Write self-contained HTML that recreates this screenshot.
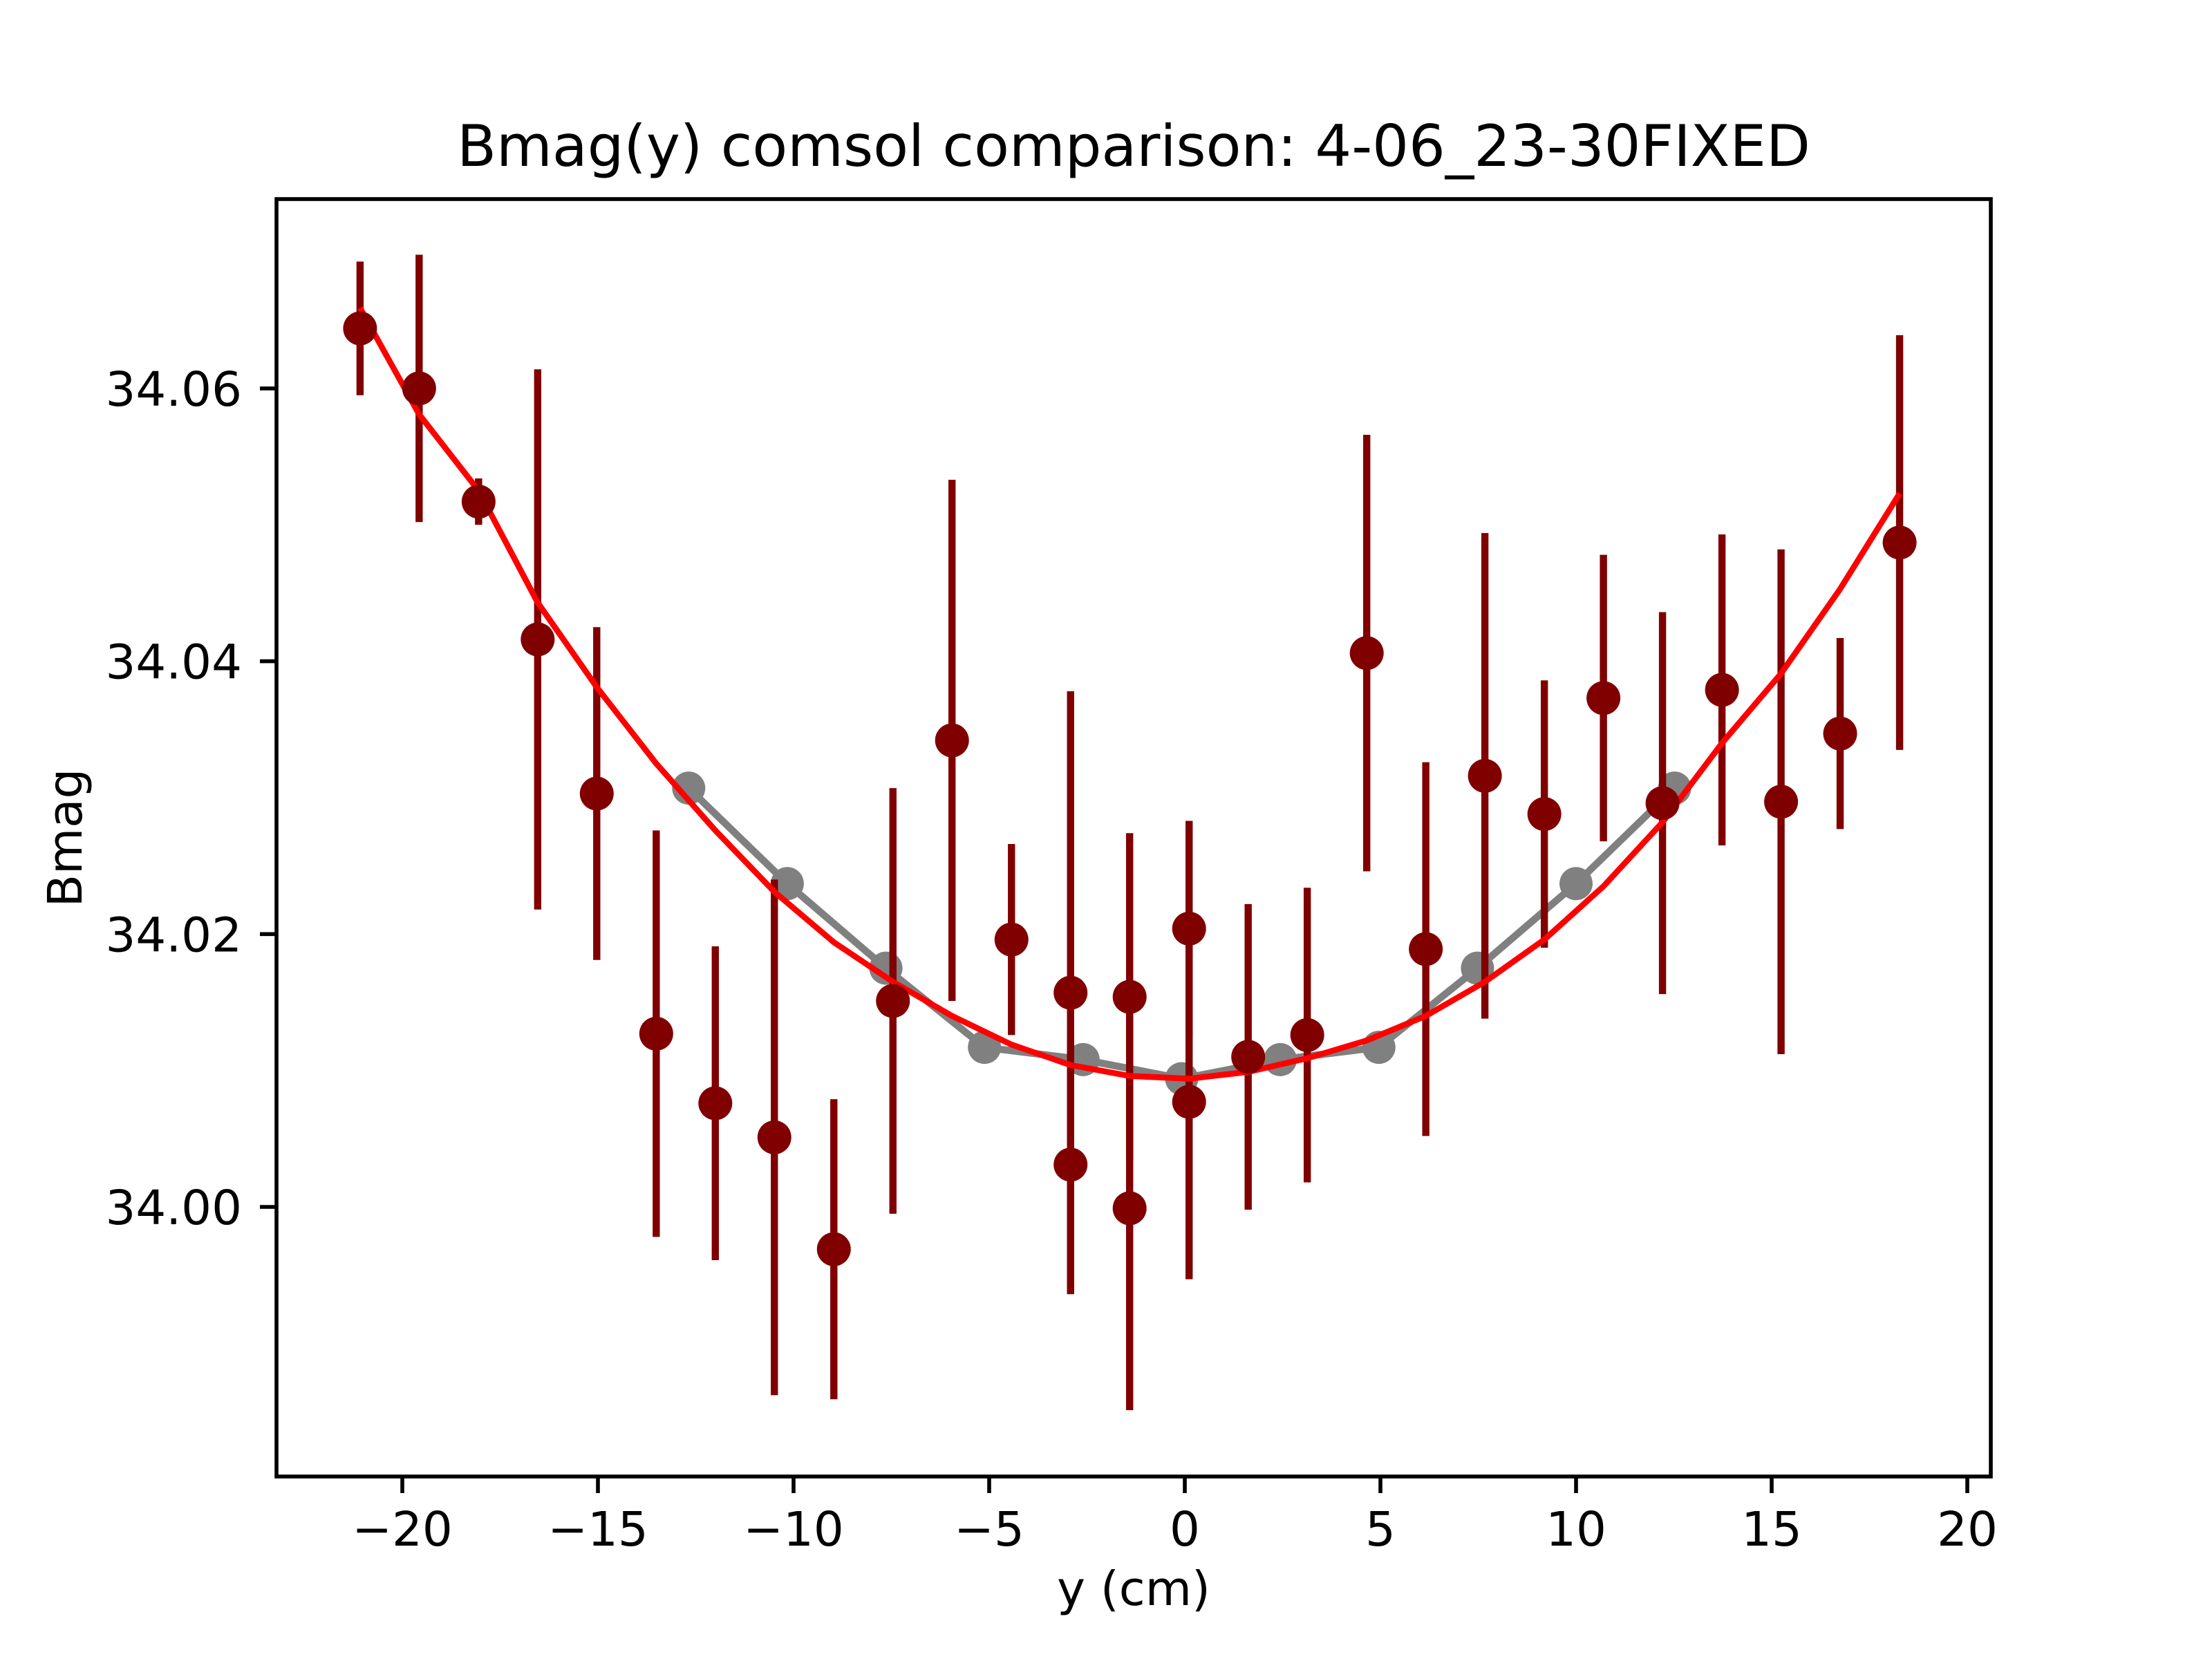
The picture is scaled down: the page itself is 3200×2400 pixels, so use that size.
<!DOCTYPE html>
<html><head><meta charset="utf-8"><style>
html,body{margin:0;padding:0;background:#fff}
svg{display:block}
text{font-family:"DejaVu Sans","Liberation Sans",sans-serif;fill:#000}
</style></head><body>
<svg id="chart" width="3200" height="2400" viewBox="0 0 3200 2400" xmlns="http://www.w3.org/2000/svg">
<rect x="0" y="0" width="3200" height="2400" fill="#fff"/>
<text x="1640" y="240" font-size="83" text-anchor="middle">Bmag(y) comsol comparison: 4-06_23-30FIXED</text>
<text x="1640" y="2322" font-size="69" text-anchor="middle">y (cm)</text>
<text transform="translate(118,1212) rotate(-90)" font-size="69" text-anchor="middle">Bmag</text>
<g id="plot"></g>
<rect x="400" y="288" width="2480" height="1848" fill="none" stroke="#000" stroke-width="5.6"/>
<g id="axes"></g>
</svg>
<script>
var xTicks=[-20,-15,-10,-5,0,5,10,15,20];
var xTickLabels=["\u221220","\u221215","\u221210","\u22125","0","5","10","15","20"];
var yTicks=[34.00,34.02,34.04,34.06];
var yTickLabels=["34.00","34.02","34.04","34.06"];
var measX=[-21.08,-19.57,-18.05,-16.54,-15.03,-13.51,-12.0,-10.49,-8.97,-7.46,-5.95,-4.43,-2.92,-2.92,-1.41,-1.41,0.11,0.11,1.62,3.13,4.65,6.16,7.67,9.19,10.70,12.21,13.73,15.24,16.75,18.27];
var measY=[34.0644,34.0600,34.0517,34.0416,34.0303,34.0127,34.0076,34.0051,33.9969,34.0151,34.0342,34.0196,34.0157,34.0031,34.0154,33.9999,34.0204,34.0077,34.0110,34.0126,34.0406,34.0189,34.0316,34.0288,34.0373,34.0296,34.0379,34.0297,34.0347,34.0487];
var measErr=[0.0049,0.0098,0.0017,0.0198,0.0122,0.0149,0.0115,0.0189,0.0110,0.0156,0.0191,0.0070,0.0221,0.0093,0.0120,0.0148,0.0079,0.0130,0.0112,0.0108,0.0160,0.0137,0.0178,0.0098,0.0105,0.0140,0.0114,0.0185,0.0070,0.0152];
var comsolX=[-12.68,-10.16,-7.64,-5.12,-2.6,-0.08,2.44,4.96,7.48,10.0,12.52];
var comsolY=[34.0307,34.0237,34.0175,34.0117,34.0108,34.0094,34.0108,34.0117,34.0175,34.0237,34.0307];
var fitX=[-21.08,-19.57,-18.05,-16.54,-15.03,-13.51,-12.0,-10.49,-8.97,-7.46,-5.95,-4.43,-2.92,-1.41,0.11,1.62,3.13,4.65,6.16,7.67,9.19,10.70,12.21,13.73,15.24,16.75,18.27];
var fitY=[34.0659,34.0581,34.0525,34.0443,34.0381,34.0325,34.0276,34.0231,34.0194,34.0165,34.0140,34.0119,34.0104,34.0096,34.0094,34.0099,34.0109,34.0122,34.0140,34.0165,34.0196,34.0235,34.0282,34.0340,34.0391,34.0453,34.0523];

var NS="http://www.w3.org/2000/svg";
function sx(x){return 582+(x+20)*56.6;}
function sy(v){return 1746-(v-34)*19735;}
function mk(tag,attrs,parent){var e=document.createElementNS(NS,tag);for(var k in attrs)e.setAttribute(k,attrs[k]);parent.appendChild(e);return e;}
var plot=document.getElementById('plot');
var axes=document.getElementById('axes');

var cp=comsolX.map(function(x,i){return sx(x)+','+sy(comsolY[i]);}).join(' ');
var cl=mk('polyline',{points:cp,fill:'none',stroke:'#808080','stroke-width':10.4,'stroke-linejoin':'round'},plot);


comsolX.forEach(function(x,i){
  var c=mk('circle',{cx:sx(x),cy:sy(comsolY[i]),r:24,fill:'#808080'},plot);
  
  
});
measX.forEach(function(x,i){
  var l=mk('line',{x1:sx(x),x2:sx(x),y1:sy(measY[i]+measErr[i]),y2:sy(measY[i]-measErr[i]),stroke:'#800000','stroke-width':10.4},plot);
  
  
});
var fp=fitX.map(function(x,i){return sx(x)+','+sy(fitY[i]);}).join(' ');
var fl=mk('polyline',{points:fp,fill:'none',stroke:'#ff0000','stroke-width':8.5,'stroke-linejoin':'round'},plot);


measX.forEach(function(x,i){
  var c=mk('circle',{cx:sx(x),cy:sy(measY[i]),r:24.5,fill:'#800000'},plot);
  
  
});

xTicks.forEach(function(t,i){
  var X=sx(t);
  var tk=mk('line',{x1:X,x2:X,y1:2136,y2:2160,stroke:'#000','stroke-width':5.6},axes);
  
  
  var tx=mk('text',{x:X,y:2236,'font-size':69,'text-anchor':'middle'},axes);
  tx.textContent=xTickLabels[i];
  
  
});
yTicks.forEach(function(t,i){
  var Y=sy(t);
  var tk=mk('line',{x1:376,x2:400,y1:Y,y2:Y,stroke:'#000','stroke-width':5.6},axes);
  
  
  var tx=mk('text',{x:350,y:Y+25,'font-size':69,'text-anchor':'end'},axes);
  tx.textContent=yTickLabels[i];
  
  
});
</script>
</body></html>
